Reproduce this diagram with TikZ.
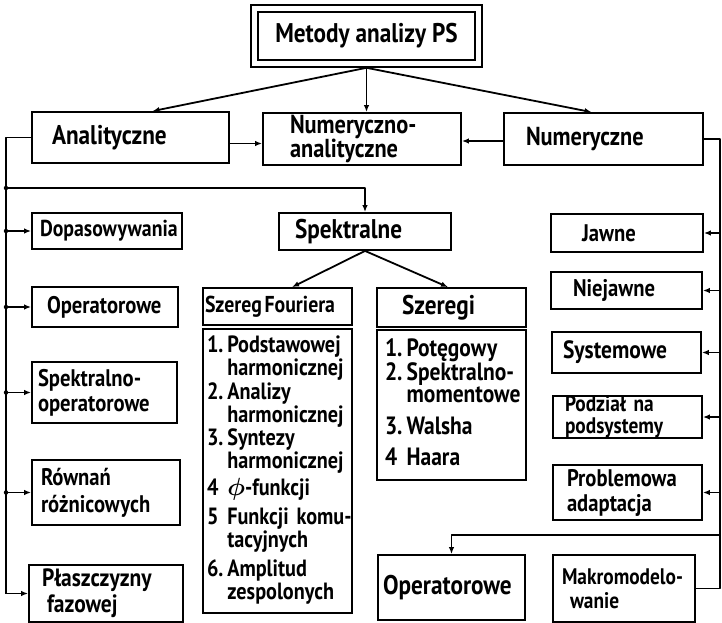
\documentclass[tikz,border=0pt]{standalone}
\usepackage{amsmath}
\usepackage{fontspec}
\setmainfont{PT Sans}[FakeStretch=0.86]
\usetikzlibrary{arrows.meta,fit}

\begin{document}
\begin{tikzpicture}[x=1pt,y=-1pt,
  fs/.style 2 args={font=\fontsize{#1}{#2}\selectfont\bfseries},
  box/.style={draw, line width=1.8pt, inner sep=0pt, align=left, fs={24}{25}},
  tb/.style 2 args={inner xsep=#1, text width=#2},
  listbox/.style={draw, line width=1.8pt, inner sep=0pt, align=left, fs={23.5}{21}},
  conn/.style={line width=1.8pt, line join=round},
  arr/.style={conn, -{Latex[length=7pt,width=5.5pt]}},
  junc/.style={circle, fill, inner sep=0pt, minimum size=4.5pt},
]
\fill[white] (0,0) rectangle (722,623);
\useasboundingbox (0,0) rectangle (722,623);

% bus lines on both sides
\coordinate (lb) at (6,0);
\coordinate (rb) at (720,0);
\coordinate (br) at (6,188);
\coordinate (ob) at (720,535);

% title block with a double frame
\node[box, align=center, minimum width=217, minimum height=48, fs={27}{27}]
      (top) at (366.5,36) {Metody analizy PS};
\node[draw, line width=1.8pt, fit=(top), inner sep=6pt] (topframe) {};

% main groups
\node[box, tb={20}{157}, minimum height=51, fs={27}{27}] (ana) at (130.5,137.5) {Analityczne};
\node[box, tb={27}{144}, minimum height=52, fs={26}{21}] (numana) at (362,139) {Numeryczno-\\analityczne};
\node[box, tb={22}{155}, minimum height=52, fs={26}{27}] (num) at (603.5,139) {Numeryczne};

% analytic methods (left column)
\node[box, tb={8}{134}, minimum height=36, fs={23}{24}] (dop) at (107,231) {Dopasowywania};
\node[box, tb={15}{116}, minimum height=40] (op) at (105,307) {Operatorowe};
\node[box, tb={6}{133}, minimum height=61] (spop) at (104.5,392.5) {Spektralno-\\operatorowe};
\node[box, tb={9}{130}, minimum height=65, fs={24}{27}]
      (rown) at (106,492.5) {Równań\\różnicowych};
\node[box, tb={13}{128}, minimum height=57, fs={25}{26}]
      (pla) at (106,593.5) {Płaszczyzny\\\hspace*{5pt}fazowej};

% spectral methods
\node[box, tb={16}{140}, minimum height=37, fs={27}{27}] (spek) at (365,231.5) {Spektralne};
\node[box, tb={2}{145}, minimum height=37, fs={23}{24}]
      (fouh) at (277.5,306.5) {\spaceskip=0.12em Szereg Fouriera};
\node[listbox, tb={4}{141}, minimum height=284] (foub) at (277.5,471) {%
  \begin{tabular}{@{}l@{\,}l@{}}
  1. & Podstawowej\\
     & harmonicznej\\
  2. & Analizy\\
     & harmonicznej\\
  3. & Syntezy\\
     & harmonicznej\\[4pt]
  4  & $\boldsymbol{\phi}$-funkcji\\[6pt]
  5  & Funkcji komu-\\
     & tacyjnych\\[6pt]
  6. & Amplitud\\
     & zespolonych
  \end{tabular}};
\node[box, tb={25}{99}, minimum height=39, fs={27}{27}] (szh) at (451.5,307.5) {Szeregi};
\node[listbox, tb={8}{133}, minimum height=150, fs={25}{22}] (szb) at (451.5,405) {%
  \begin{tabular}{@{}l@{\,}l@{}}
  1. & Potęgowy\\
  2. & Spektralno-\\
     & momentowe\\[8pt]
  3. & Walsha\\[6pt]
  4  & Haara
  \end{tabular}};

% numeric methods (right column)
\node[box, tb={31}{90}, minimum height=38] (jaw) at (627,233) {Jawne};
\node[box, tb={22}{107}, minimum height=37] (niej) at (626.5,290.5) {Niejawne};
\node[box, tb={11}{127}, minimum height=41, fs={25}{25}] (sys) at (626.5,352.5) {Systemowe};
\node[box, tb={12}{125}, minimum height=42, fs={22.5}{21.5}] (podz) at (627.5,417) {Podział na\\podsystemy};
\node[box, tb={14}{121}, minimum height=55] (prob) at (627.5,492.5) {Problemowa\\adaptacja};
\node[box, tb={5}{137}, minimum height=65, fs={27}{27}] (opr) at (451.5,587.5) {Operatorowe};
\node[box, tb={9}{124}, minimum height=67, fs={22.5}{24}] (makro) at (624,588.5) {Makromodelo-\\\hspace*{8pt}wanie};

% title to groups
\draw[arr] (topframe.south) -- ([xshift=22pt]ana.north);
\draw[arr] (topframe.south) -- (topframe.south |- numana.north);
\draw[arr] (topframe.south) -- ([xshift=-12pt]num.north);
\draw[arr] ([yshift=-6pt]ana.east) -- ([yshift=-6pt]ana.east -| numana.west);
\draw[arr] ([yshift=-2pt]num.west) -- ([yshift=-2pt]num.west -| numana.east);

% left bus
\draw[conn] (ana.west) -- (ana.west -| lb) -- (lb |- pla.west);
\draw[arr] (lb |- pla.west) -- (pla.west);
\foreach \b in {dop,op,spop,rown}{
  \draw[arr] (\b.west -| lb) -- (\b.west);
  \node[junc] at (\b.west -| lb) {};
}
\node[junc] at (br) {};
\draw[arr] (br) -| (spek.north);

% spectral branches
\draw[arr] (spek.south) -- ([xshift=14.5pt]fouh.north);
\draw[arr] (spek.south) -- ([xshift=-3.5pt]szh.north);

% right bus
\draw[conn] (num.east) -- (num.east -| rb) -- (rb |- makro.east) -- (makro.east);
\foreach \b in {jaw,niej,sys,podz,prob}{
  \draw[arr] (rb |- \b.east) -- (\b.east);
}
\draw[arr] (ob) -| (opr.north);

\end{tikzpicture}
\end{document}
